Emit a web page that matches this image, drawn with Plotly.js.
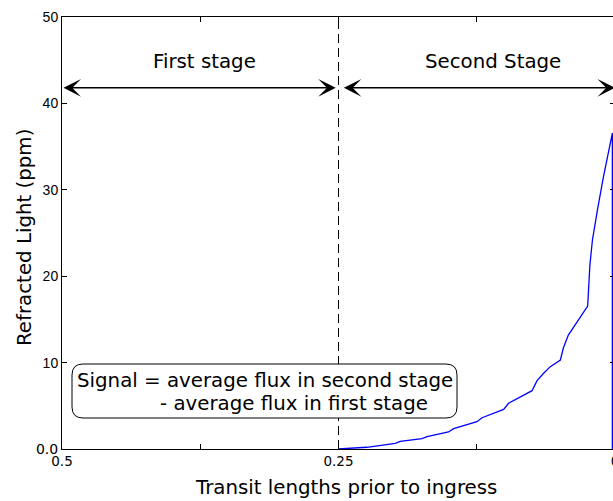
<!DOCTYPE html>
<html>
<head>
<meta charset="utf-8">
<script src="https://cdn.plot.ly/plotly-3.0.1.min.js"></script>
<style>
html,body{margin:0;padding:0;overflow:hidden;background:#fff;}
#chart{width:620px;height:501px;}
</style>
</head>
<body>
<div id="chart"></div>
<script>
// ---- data ----
var transitLengths = [0.2500, 0.2243, 0.1987, 0.1942, 0.1745, 0.1700, 0.1505, 0.1459, 0.1248, 0.1202,
  0.1007, 0.0962, 0.0750, 0.0705, 0.0645, 0.0585, 0.0494, 0.0467, 0.0422, 0.0247,
  0.0227, 0.0204, 0.0159, 0.0105, 0.0024, 0.0024];
var refractedLight = [0.00, 0.20, 0.66, 0.89, 1.19, 1.42, 1.97, 2.35, 3.16, 3.62,
  4.59, 5.29, 6.75, 7.91, 8.76, 9.53, 10.30, 11.69, 13.19, 16.55,
  21.30, 24.19, 27.66, 31.48, 36.57, 0.00];
var xTickVals = [0.5, 0.375, 0.25, 0.125, 0];
var xTickText = ['0.5', '', '0.25', '', '0'];
var yTickVals = [0, 10, 20, 30, 40, 50];
var yTickText = ['<span style="font-family:DejaVu Sans">0.0</span>', '10', '20', '30', '40', '50'];
var stageBoundary = 0.25;
var arrowLevel = 41.8;
var stageLabels = ['First stage', 'Second Stage'];
var signalLines = ['Signal = average flux in second stage', '- average flux in first stage'];
var xTitle = 'Transit lengths prior to ingress';
var yTitle = 'Refracted Light (ppm)';

// ---- layout helpers ----
var M = {l: 62, r: 5, t: 17, b: 52};
var W = 620, H = 501;
var PW = W - M.l - M.r, PH = H - M.t - M.b;
function px(x) { return (x - M.l) / PW; }
function py(y) { return (H - M.b - y) / PH; }
function roundRect(x0, y0, x1, y1, r) {
  var rx = r / PW, ry = r / PH;
  var L = px(x0), R = px(x1), T = py(y0), B = py(y1);
  return 'M' + (L + rx) + ',' + T + ' L' + (R - rx) + ',' + T +
    ' Q' + R + ',' + T + ' ' + R + ',' + (T - ry) +
    ' L' + R + ',' + (B + ry) + ' Q' + R + ',' + B + ' ' + (R - rx) + ',' + B +
    ' L' + (L + rx) + ',' + B + ' Q' + L + ',' + B + ' ' + L + ',' + (B + ry) +
    ' L' + L + ',' + (T - ry) + ' Q' + L + ',' + T + ' ' + (L + rx) + ',' + T + ' Z';
}

var bigFont = {family: 'DejaVu Sans', size: 19.8, color: '#000'};

var trace = {
  x: transitLengths, y: refractedLight, type: 'scatter', mode: 'lines',
  line: {color: '#0000ff', width: 1.3}, hoverinfo: 'skip', showlegend: false
};

var arrowCommon = {
  xref: 'x', yref: 'y', axref: 'x', ayref: 'y', text: '', showarrow: true,
  arrowside: 'end+start', arrowhead: 3, startarrowhead: 3,
  arrowsize: 1.95, startarrowsize: 1.95, arrowwidth: 1.5, arrowcolor: '#000',
  standoff: 0, startstandoff: 0
};

var layout = {
  width: W, height: H,
  margin: M,
  paper_bgcolor: '#fff', plot_bgcolor: '#fff',
  showlegend: false,
  xaxis: {
    range: [0.5, 0], autorange: false,
    tickmode: 'array', tickvals: xTickVals, ticktext: xTickText,
    ticks: 'inside', ticklen: 5, tickwidth: 1, tickcolor: '#000',
    showline: true, linecolor: '#000', linewidth: 1, mirror: 'ticks',
    showgrid: false, zeroline: false,
    tickfont: {family: 'DejaVu Sans', size: 13.5, color: '#000'}
  },
  yaxis: {
    range: [0, 50], autorange: false,
    tickmode: 'array', tickvals: yTickVals, ticktext: yTickText,
    ticks: 'inside', ticklen: 5, tickwidth: 1, tickcolor: '#000',
    showline: true, linecolor: '#000', linewidth: 1, mirror: 'ticks',
    showgrid: false, zeroline: false,
    tickfont: {family: 'Liberation Sans', size: 14, color: '#000'}
  },
  shapes: [
    {type: 'line', xref: 'x', yref: 'paper', x0: stageBoundary, x1: stageBoundary, y0: 0, y1: 1,
     line: {color: '#000', width: 1, dash: '9px,5px'}},
    {type: 'path', xref: 'paper', yref: 'paper', path: roundRect(72, 364, 457, 418, 11),
     line: {color: '#000', width: 1}, fillcolor: 'rgba(255,255,255,1)', layer: 'above'}
  ],
  annotations: [
    Object.assign({x: 0.2525, y: arrowLevel, ax: 0.5, ay: arrowLevel}, arrowCommon),
    Object.assign({x: 0.0, y: arrowLevel, ax: 0.2465, ay: arrowLevel}, arrowCommon),
    {xref: 'paper', yref: 'paper', x: px(204.5), y: py(62), text: stageLabels[0], showarrow: false,
     font: bigFont, xanchor: 'center', yanchor: 'middle'},
    {xref: 'paper', yref: 'paper', x: px(492.5), y: py(62), text: stageLabels[1], showarrow: false,
     font: bigFont, xanchor: 'center', yanchor: 'middle'},
    {xref: 'paper', yref: 'paper', x: px(74.5), y: py(380), text: signalLines[0], showarrow: false,
     font: bigFont, xanchor: 'left', yanchor: 'middle'},
    {xref: 'paper', yref: 'paper', x: px(157.5), y: py(403), text: signalLines[1], showarrow: false,
     font: bigFont, xanchor: 'left', yanchor: 'middle'},
    {xref: 'paper', yref: 'paper', x: px(346), y: py(487), text: xTitle, showarrow: false,
     font: bigFont, xanchor: 'center', yanchor: 'middle'},
    {xref: 'paper', yref: 'paper', x: px(24), y: py(238), text: yTitle, showarrow: false,
     font: bigFont, xanchor: 'center', yanchor: 'middle', textangle: -90}
  ]
};

Plotly.newPlot('chart', [trace], layout, {staticPlot: true, displayModeBar: false});
</script>
</body>
</html>
